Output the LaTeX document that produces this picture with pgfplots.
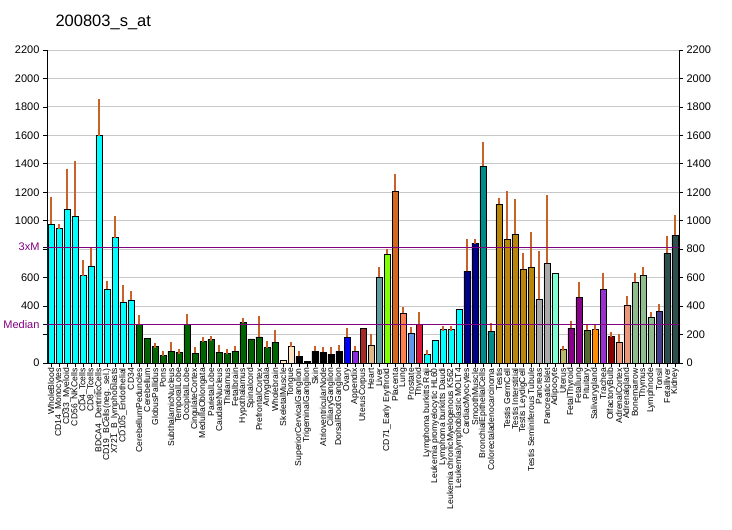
\documentclass[border=0pt]{standalone}
\usepackage{pgfplots}
\pgfplotsset{compat=1.18}
\usepackage{fontspec}
\setmainfont{Liberation Sans}

\definecolor{errc}{HTML}{C8622A}
\definecolor{mpurple}{HTML}{800080}
\definecolor{gridc}{HTML}{C8C8C8}
\definecolor{ccyan}{HTML}{00FFFF}
\definecolor{cblue}{HTML}{0000FF}
\definecolor{cdarkgreen}{HTML}{006400}
\definecolor{cbisque}{HTML}{FFE4C4}
\definecolor{cblueviolet}{HTML}{8A2BE2}
\definecolor{cbrown}{HTML}{A52A2A}
\definecolor{cburlywood}{HTML}{DEB887}
\definecolor{ccadetblue}{HTML}{5F9EA0}
\definecolor{cchartreuse}{HTML}{7FFF00}
\definecolor{cchocolate}{HTML}{D2691E}
\definecolor{ccoral}{HTML}{FF7F50}
\definecolor{ccornflower}{HTML}{6495ED}
\definecolor{ccrimson}{HTML}{DC143C}
\definecolor{cdarkblue}{HTML}{00008B}
\definecolor{cdarkcyan}{HTML}{008B8B}
\definecolor{cgoldenrod}{HTML}{B8860B}
\definecolor{cdarkgray}{HTML}{A9A9A9}
\definecolor{caquamarine}{HTML}{7FFFD4}
\definecolor{cdarkkhaki}{HTML}{BDB76B}
\definecolor{cdarkmagenta}{HTML}{8B008B}
\definecolor{colive}{HTML}{556B2F}
\definecolor{cdarkorange}{HTML}{FF8C00}
\definecolor{cdarkorchid}{HTML}{9932CC}
\definecolor{cdarkred}{HTML}{8B0000}
\definecolor{csalmon}{HTML}{E9967A}
\definecolor{cseagreen}{HTML}{8FBC8F}
\definecolor{cslateblue}{HTML}{483D8B}
\definecolor{cslategray}{HTML}{2F4F4F}

% bars with upward error bars
\newcommand{\bars}[2]{\addplot[ybar, bar width=6pt, bar shift=0pt, fill=#1, draw=black, line width=0.9pt,
  error bars/.cd, y dir=plus, y explicit,
  error bar style={errc, line width=1.1pt},
  error mark options={errc, mark size=2.5pt, line width=1.1pt}] coordinates {#2};}
% bars without error bars
\newcommand{\plainbars}[2]{\addplot[ybar, bar width=6pt, bar shift=0pt, fill=#1, draw=black, line width=0.9pt] coordinates {#2};}

\begin{document}
\begin{tikzpicture}[x=1pt,y=1pt]
\begin{axis}[
  at={(47pt,167pt)}, anchor=south west,
  scale only axis, width=632pt, height=313pt,
  xmin=-0.5, xmax=78.5, ymin=0, ymax=2200,
  axis x line*=bottom, axis y line*=left,
  axis line style={line width=0.9pt},
  tick align=outside, major tick length=4pt,
  tick style={black, line width=0.8pt},
  ymajorgrids, grid style={gridc, line width=0.9pt},
  ytick={0,200,...,2200},
  yticklabels={0,,400,600,,1000,1200,1400,1600,1800,2000,2200},
  extra y ticks={271,814},
  extra y tick labels={Median,3xM},
  extra y tick style={grid=none, tick label style={text=mpurple, font=\fontsize{10}{12}\selectfont}},
  y tick label style={font=\fontsize{11}{13}\selectfont},
  /pgf/number format/assume math mode=true,
  xtick={0,...,78},
  xticklabels={WholeBlood, CD14\_Monocytes, CD33\_Myeloid, CD56\_NKCells, CD4\_Tcells, CD8\_Tcells, BDCA4\_DentriticCells, CD19\_BCells(neg.\_sel.), X721\_B\_lymphoblasts, CD105\_Endothelial, CD34, CerebellumPeduncles, Cerebellum, GlobusPallidus, Pons, SubthalamicNucleus, TemporalLobe, OccipitalLobe, CingulateCortex, MedullaOblongata, ParietalLobe, CaudateNucleus, Thalamus, Fetalbrain, Hypothalamus, Spinalcord, PrefrontalCortex, Amygdala, Wholebrain, SkeletalMuscle, Tongue, SuperiorCervicalGanglion, TrigeminalGanglion, Skin, AtrioventricularNode, CiliaryGanglion, DorsalRootGanglion, Ovary, Appendix, UterusCorpus, Heart, Liver, CD71\_Early Erythroid, Placenta, Lung, Prostate, Thyroid, Lymphoma burkitts Raji, Leukemia promyelocytic HL60, Lymphoma burkitts Daudi, Leukemia chronicMyelogenous K562, Leukemialymphoblastic MOLT4, CardiacMyocytes, SmoothMuscle, BronchialEpithelialCells, Colorectaladenocarcinoma, Testis, Testis GermCell, Testis Interstitial, Testis LeydigCell, Testis Seminiferous Tubule, Pancreas, PancreaticIslet, Adipocyte, Uterus, FetalThyroid, Fetallung, Pituitary, Salivarygland, Trachea, OlfactoryBulb, AdrenalCortex, Adrenalgland, Bonemarrow, Thymus, Lymphnode, Tonsil, Fetalliver, Kidney},
  x tick label style={rotate=90, anchor=east, inner sep=1pt, font=\fontsize{8.6}{10}\selectfont},
]
\bars{ccyan}{(0,975) +- (0,176) (1,947) +- (0,14) (2,1081) +- (0,267) (3,1032) +- (0,368) (4,612) +- (0,96) (5,682) +- (0,118) (6,1597) +- (0,238) (7,518) +- (0,42) (8,879) +- (0,139) (9,429) +- (0,103) (10,443) +- (0,42)}
\bars{cdarkgreen}{(11,272) +- (0,49) (13,113) +- (0,11) (14,56) +- (0,12) (15,84) +- (0,47) (16,77) +- (0,7) (17,272) +- (0,56) (18,70) +- (0,26) (19,148) +- (0,18) (20,166) +- (0,8) (21,77) +- (0,33) (22,70) +- (0,14) (23,84) +- (0,19) (24,288) +- (0,14) (26,183) +- (0,131) (27,106) +- (0,28) (28,145) +- (0,71)}
\plainbars{cdarkgreen}{(12,174) (25,169)}
\plainbars{cbisque}{(29,19)}
\bars{cbisque}{(30,117) +- (0,14)}
\bars{black}{(31,47) +- (0,21) (33,84) +- (0,19) (34,77) +- (0,19) (35,63) +- (0,33) (36,84) +- (0,26)}
\plainbars{black}{(32,12)}
\bars{cblue}{(37,181) +- (0,49)}
\bars{cblueviolet}{(38,84) +- (0,19)}
\plainbars{cbrown}{(39,244)}
\bars{cburlywood}{(40,124) +- (0,64)}
\bars{ccadetblue}{(41,603) +- (0,56)}
\bars{cchartreuse}{(42,764) +- (0,22)}
\bars{cchocolate}{(43,1208) +- (0,105)}
\bars{ccoral}{(44,349) +- (0,29)}
\bars{ccornflower}{(45,209) +- (0,28)}
\bars{ccrimson}{(46,272) +- (0,70)}
\bars{ccyan}{(47,61) +- (0,14) (49,237) +- (0,7) (50,237) +- (0,7)}
\plainbars{ccyan}{(48,159) (51,378)}
\bars{cdarkblue}{(52,645) +- (0,211) (53,842) +- (0,14)}
\bars{cdarkcyan}{(54,1384) +- (0,154) (55,223) +- (0,42)}
\bars{cgoldenrod}{(56,1116) +- (0,28) (57,870) +- (0,324) (58,905) +- (0,232) (59,659) +- (0,98) (60,673) +- (0,232)}
\bars{cdarkgray}{(61,448) +- (0,324) (62,701) +- (0,464)}
\plainbars{caquamarine}{(63,631)}
\bars{cdarkkhaki}{(64,98) +- (0,5)}
\bars{cdarkmagenta}{(65,244) +- (0,35) (66,462) +- (0,91)}
\bars{colive}{(67,230) +- (0,21)}
\bars{cdarkorange}{(68,237) +- (0,14)}
\bars{cdarkorchid}{(69,518) +- (0,99)}
\bars{cdarkred}{(70,188) +- (0,14)}
\bars{csalmon}{(71,145) +- (0,43) (72,406) +- (0,49)}
\bars{cseagreen}{(73,567) +- (0,50) (74,617) +- (0,42) (75,321) +- (0,21)}
\bars{cslateblue}{(76,363) +- (0,36)}
\bars{cslategray}{(77,772) +- (0,105) (78,898) +- (0,127)}
\addplot[mpurple, line width=1pt] coordinates {(-0.5,814) (78.5,814)};
\addplot[mpurple, line width=1pt] coordinates {(-0.5,271) (78.5,271)};
\end{axis}
\begin{axis}[
  at={(47pt,167pt)}, anchor=south west,
  scale only axis, width=632pt, height=313pt,
  xmin=-0.5, xmax=78.5, ymin=0, ymax=2200,
  axis x line=none, axis y line*=right,
  axis line style={line width=0.9pt},
  tick align=outside, major tick length=4pt,
  tick style={black, line width=0.8pt},
  ytick={0,200,...,2200},
  y tick label style={font=\fontsize{11}{13}\selectfont},
  /pgf/number format/assume math mode=true,
  /pgf/number format/1000 sep={},
]
\end{axis}
\node[anchor=west, font=\fontsize{16.5}{20}\selectfont] at (52pt,508pt) {200803\_s\_at};
\pgfresetboundingbox
\path[use as bounding box] (0pt,0pt) rectangle (732pt,530pt);
\end{tikzpicture}
\end{document}
